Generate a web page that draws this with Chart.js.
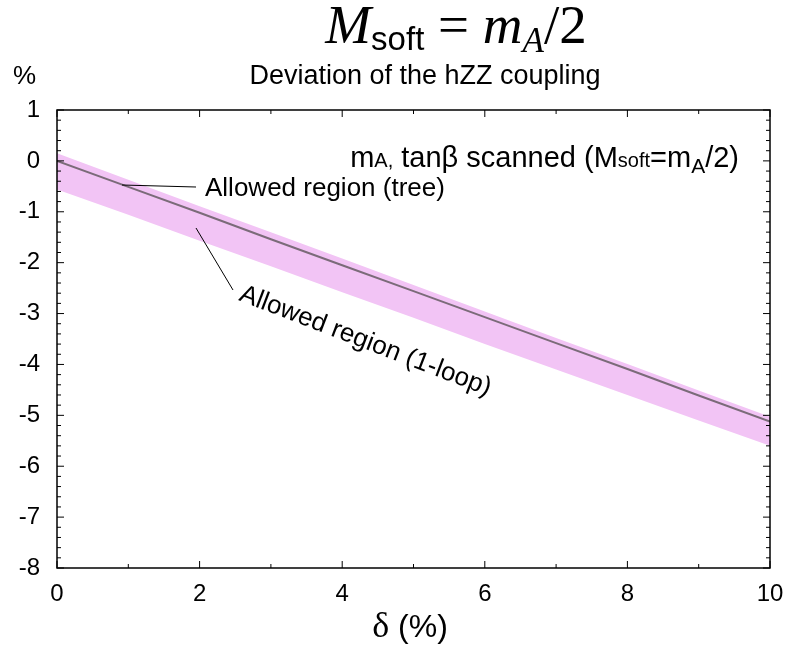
<!DOCTYPE html>
<html>
<head>
<meta charset="utf-8">
<script src="https://cdn.jsdelivr.net/npm/chart.js@4.4.1/dist/chart.umd.min.js"></script>
<style>
  html, body { margin: 0; padding: 0; background: #fff; }
  #wrap { width: 789px; height: 646px; }
</style>
</head>
<body>
<div id="wrap"><canvas id="hzzChart" width="789" height="646"></canvas></div>
<script>
// delta (%) sample points
const deltaValues = [0, 1, 2, 3, 4, 5, 6, 7, 8, 9, 10];
// tree-level line
const treeLine = [0, -0.51, -1.02, -1.54, -2.05, -2.56, -3.07, -3.58, -4.09, -4.61, -5.12];
// 1-loop allowed band, upper and lower edges
const loopUpper = [0.15, -0.37, -0.89, -1.40, -1.92, -2.44, -2.96, -3.48, -3.99, -4.51, -5.03];
const loopLower = [-0.56, -1.06, -1.57, -2.07, -2.58, -3.08, -3.60, -4.10, -4.60, -5.10, -5.60];

const xTicks = [0, 2, 4, 6, 8, 10];
const yTicks = [1, 0, -1, -2, -3, -4, -5, -6, -7, -8];

function toPoints(ys) {
    return deltaValues.map((d, i) => ({ x: d, y: ys[i] }));
}

const SANS = '"Liberation Sans", Arial, sans-serif';
const SERIF = '"Liberation Serif", "DejaVu Serif", serif';

// draw a run of text pieces: [text, font, dy]
function drawRun(ctx, x, y, parts, align) {
    let total = 0;
    parts.forEach(p => { ctx.font = p[1]; total += ctx.measureText(p[0]).width; });
    let cx = x;
    if (align === 'center') cx = x - total / 2;
    if (align === 'right') cx = x - total;
    ctx.textAlign = 'left';
    parts.forEach(p => {
        ctx.font = p[1];
        ctx.fillText(p[0], cx, y + (p[2] || 0));
        cx += ctx.measureText(p[0]).width;
    });
}

const framePlugin = {
    id: 'framePlugin',
    afterDraw(chart) {
        const ctx = chart.ctx;
        const a = chart.chartArea;
        const xs = chart.scales.x, ys = chart.scales.y;
        ctx.save();

        // frame
        ctx.strokeStyle = '#000';
        ctx.lineWidth = 1.5;
        ctx.strokeRect(a.left, a.top, a.right - a.left, a.bottom - a.top);

        // inward ticks
        ctx.lineWidth = 1;
        for (let v = 0; v <= 10; v++) {
            const px = xs.getPixelForValue(v);
            const len = v % 2 === 0 ? 7 : 4;
            ctx.beginPath();
            ctx.moveTo(px, a.bottom); ctx.lineTo(px, a.bottom - len);
            ctx.moveTo(px, a.top); ctx.lineTo(px, a.top + len);
            ctx.stroke();
        }
        for (let k = 0; k <= 45; k++) {
            const v = 1 - k * 0.2;
            const py = ys.getPixelForValue(v);
            const len = k % 5 === 0 ? 7 : 4;
            ctx.beginPath();
            ctx.moveTo(a.left, py); ctx.lineTo(a.left + len, py);
            ctx.moveTo(a.right, py); ctx.lineTo(a.right - len, py);
            ctx.stroke();
        }

        ctx.fillStyle = '#000';
        ctx.textBaseline = 'alphabetic';

        // top formula title
        drawRun(ctx, 456, 43, [
            ['M', 'italic 55px ' + SERIF],
            ['soft', '33px ' + SANS, 7],
            [' = ', '55px ' + SERIF],
            ['m', 'italic 55px ' + SERIF],
            ['A', 'italic 35px ' + SERIF, 9],
            ['/2', '55px ' + SERIF]
        ], 'center');

        // % and subtitle
        ctx.font = '26px ' + SANS;
        ctx.textAlign = 'left';
        ctx.fillText('%', 13, 84);
        ctx.font = '27px ' + SANS;
        ctx.textAlign = 'center';
        ctx.fillText('Deviation of the hZZ coupling', 425, 84);

        // scan note
        drawRun(ctx, 739, 167, [
            ['m', '29px ' + SANS],
            ['A,', '20px ' + SANS],
            [' tanβ scanned (M', '29px ' + SANS],
            ['soft', '20px ' + SANS],
            ['=m', '29px ' + SANS],
            ['A', '21px ' + SANS, 6],
            ['/2)', '29px ' + SANS]
        ], 'right');

        // tree label + leader
        ctx.textAlign = 'left';
        ctx.font = '26px ' + SANS;
        ctx.fillText('Allowed region (tree)', 205, 196);
        ctx.beginPath();
        ctx.moveTo(122, 185); ctx.lineTo(196, 187);
        ctx.moveTo(196, 228); ctx.lineTo(233, 290);
        ctx.stroke();

        // 1-loop label, rotated
        ctx.save();
        ctx.translate(238, 300);
        ctx.rotate(21 * Math.PI / 180);
        ctx.font = '26px ' + SANS;
        ctx.fillText('Allowed region (1-loop)', 0, 0);
        ctx.restore();

        // x axis title
        drawRun(ctx, 410, 637, [
            ['δ', '36px ' + SERIF],
            [' (%)', '32px ' + SANS]
        ], 'center');

        ctx.restore();
    }
};

new Chart(document.getElementById('hzzChart'), {
    type: 'line',
    data: {
        datasets: [
            {
                label: 'tree',
                data: toPoints(treeLine),
                borderColor: '#7b6b79',
                borderWidth: 2,
                pointRadius: 0,
                fill: false,
                order: 0
            },
            {
                label: '1-loop upper',
                data: toPoints(loopUpper),
                borderWidth: 0,
                borderColor: 'rgba(0,0,0,0)',
                backgroundColor: 'rgb(242, 196, 245)',
                pointRadius: 0,
                fill: '+1',
                order: 1
            },
            {
                label: '1-loop lower',
                data: toPoints(loopLower),
                borderWidth: 0,
                borderColor: 'rgba(0,0,0,0)',
                pointRadius: 0,
                fill: false,
                order: 2
            }
        ]
    },
    options: {
        responsive: false,
        animation: false,
        layout: { padding: { top: 110, right: 19, left: 0, bottom: 0 } },
        plugins: {
            legend: { display: false },
            tooltip: { enabled: false }
        },
        scales: {
            x: {
                type: 'linear',
                min: 0,
                max: 10,
                afterFit(scale) {
                    scale.height = 78;
                    scale.paddingRight = 0;
                    scale.paddingLeft = 0;
                },
                afterBuildTicks(scale) { scale.ticks = xTicks.map(v => ({ value: v })); },
                grid: { display: false },
                border: { display: false },
                ticks: {
                    color: '#000',
                    font: { family: SANS, size: 24 },
                    padding: 4,
                    maxRotation: 0
                }
            },
            y: {
                type: 'linear',
                min: -8,
                max: 1,
                afterFit(scale) {
                    scale.width = 57;
                    scale.paddingTop = 0;
                    scale.paddingBottom = 0;
                },
                afterBuildTicks(scale) { scale.ticks = yTicks.map(v => ({ value: v })); },
                grid: { display: false },
                border: { display: false },
                ticks: {
                    color: '#000',
                    font: { family: SANS, size: 24 },
                    padding: 9
                }
            }
        }
    },
    plugins: [framePlugin]
});
</script>
</body>
</html>
